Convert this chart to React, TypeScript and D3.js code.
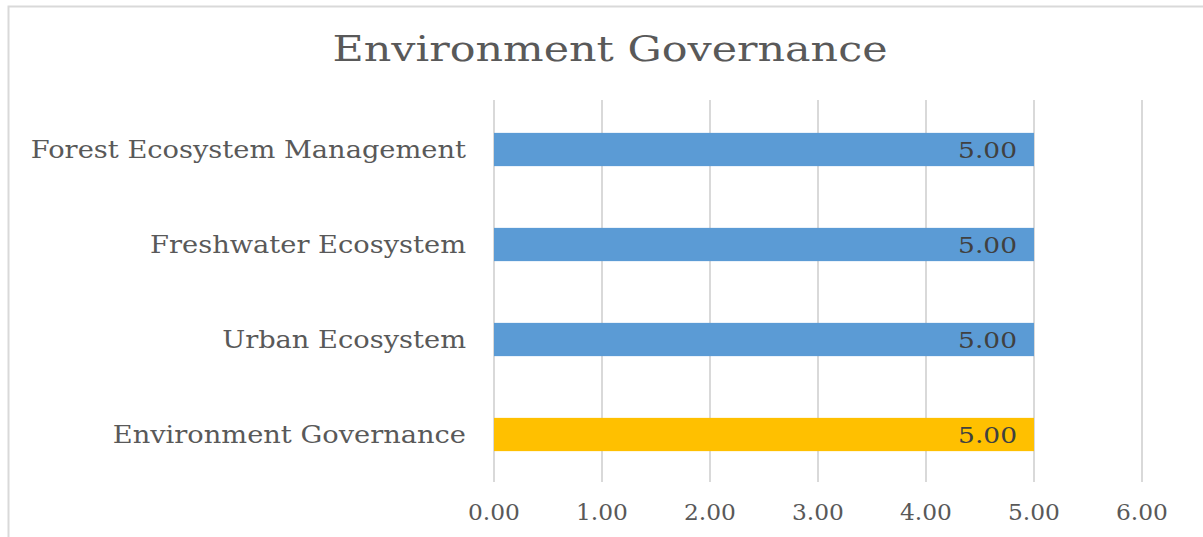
import React, { useEffect, useRef } from 'react'
import * as d3 from 'd3'

const WIDTH = 1203
const HEIGHT = 537
const PLOT_LEFT = 494
const PLOT_RIGHT = 1142
const PLOT_TOP = 100
const PLOT_BOTTOM = 482
const FONT = '"DejaVu Serif", "Liberation Serif", serif'

const categories = ['Forest Ecosystem Management', 'Freshwater Ecosystem', 'Urban Ecosystem', 'Environment Governance']
const values = [5.0, 5.0, 5.0, 5.0]
const barColors = ['#5b9bd5', '#5b9bd5', '#5b9bd5', '#ffc000']
const xTicks = [0, 1, 2, 3, 4, 5, 6]
const title = 'Environment Governance'

// the original face (Century Schoolbook) runs wider than DejaVu Serif
function widen(sel: d3.Selection<any, any, any, any>, factor: number) {
  sel.each(function () {
    const t = this as SVGTextElement
    const w = t.getComputedTextLength()
    t.setAttribute('textLength', String(w * factor))
    t.setAttribute('lengthAdjust', 'spacingAndGlyphs')
  })
}

export default function App() {
  const ref = useRef<SVGSVGElement>(null)

  useEffect(() => {
    const svg = d3.select(ref.current)
    svg.selectAll('*').remove()

    // chart frame
    svg.append('rect')
      .attr('x', 8.5)
      .attr('y', 6.5)
      .attr('width', WIDTH + 20)
      .attr('height', HEIGHT + 20)
      .attr('fill', '#fff')
      .attr('stroke', '#d9d9d9')
      .attr('stroke-width', 2)

    svg.append('text')
      .attr('x', 610)
      .attr('y', 61)
      .attr('text-anchor', 'middle')
      .attr('font-family', FONT)
      .attr('font-size', 36)
      .attr('fill', '#595959')
      .attr('textLength', 555)
      .attr('lengthAdjust', 'spacingAndGlyphs')
      .text(title)

    const x = d3.scaleLinear().domain([0, 6]).range([PLOT_LEFT, PLOT_RIGHT])
    const y = d3.scaleBand<string>()
      .domain(categories)
      .range([PLOT_TOP + 2, PLOT_BOTTOM])
      .paddingInner(0.65)
      .paddingOuter(0.325)

    svg.append('g')
      .selectAll('line')
      .data(xTicks)
      .join('line')
        .attr('x1', d => x(d))
        .attr('x2', d => x(d))
        .attr('y1', PLOT_TOP)
        .attr('y2', PLOT_BOTTOM)
        .attr('stroke', '#d9d9d9')
        .attr('stroke-width', 2)

    const ticks = svg.append('g')
      .selectAll('text')
      .data(xTicks)
      .join('text')
        .attr('x', d => x(d))
        .attr('y', 520)
        .attr('text-anchor', 'middle')
        .attr('font-family', FONT)
        .attr('font-size', 22)
        .attr('fill', '#595959')
        .text(d => d.toFixed(2))
    widen(ticks, 1.06)

    svg.append('g')
      .selectAll('rect')
      .data(categories)
      .join('rect')
        .attr('x', x(0))
        .attr('y', d => y(d)!)
        .attr('width', (d, i) => x(values[i]) - x(0))
        .attr('height', y.bandwidth())
        .attr('fill', (d, i) => barColors[i])

    const labels = svg.append('g')
      .selectAll('text')
      .data(categories)
      .join('text')
        .attr('x', 466)
        .attr('y', d => y(d)! + y.bandwidth() / 2 + 8)
        .attr('text-anchor', 'end')
        .attr('font-family', FONT)
        .attr('font-size', 23.5)
        .attr('fill', '#595959')
        .text(d => d)
    widen(labels, 1.16)

    const valueLabels = svg.append('g')
      .selectAll('text')
      .data(categories)
      .join('text')
        .attr('x', (d, i) => x(values[i]) - 17)
        .attr('y', d => y(d)! + y.bandwidth() / 2 + 8)
        .attr('text-anchor', 'end')
        .attr('font-family', FONT)
        .attr('font-size', 23)
        .attr('fill', '#404040')
        .text((d, i) => values[i].toFixed(2))
    widen(valueLabels, 1.15)
  }, [])

  return (
    <svg
      ref={ref}
      width={WIDTH}
      height={HEIGHT}
      style={{ position: 'absolute', left: 0, top: 0, background: '#fff' }}
    />
  )
}
